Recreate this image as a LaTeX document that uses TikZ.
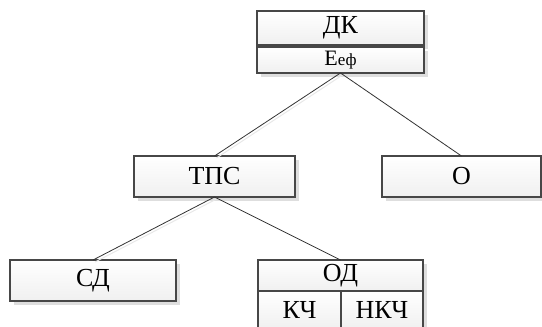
\documentclass[tikz,border=0pt]{standalone}
\usepackage{fontspec}
\setmainfont{Liberation Serif}
\usetikzlibrary{shadows}
\tikzset{
  cell/.style={rectangle, draw=black!72, line width=1.1pt, inner sep=0pt, outer sep=0pt,
    top color=white, bottom color=black!6, minimum width=#1,
    drop shadow={shadow xshift=3.5pt, shadow yshift=-3.5pt, fill=black!13, opacity=1},
    font=\fontsize{26}{30}\selectfont},
  cell/.default=165pt,
  link/.style={draw=black!80, line width=0.8pt},
  linkshade/.style={draw=black!9, line width=1pt}
}
\begin{document}
\begin{tikzpicture}[x=1pt, y=-1pt]
\clip (0,0) rectangle (542,327);
\fill[white] (0,0) rectangle (542,327);

% top unit
\node[cell=167pt, minimum height=34pt] (dk) at (340.5,28) {ДК};
\node[cell=167pt, minimum height=26pt] (eef) at (340.5,60)
  {{\fontsize{22}{26}\selectfont Е}{\fontsize{17}{20}\selectfont еф}};

% second level
\node[cell=161pt, minimum height=41pt] (tps) at (214.5,176.5) {ТПС};
\node[cell=159pt, minimum height=41pt] (o) at (461.5,176.5) {О};

% third level
\node[cell=166pt, minimum height=41pt] (sd) at (93,280.5) {СД};
\node[cell=165pt, minimum height=31pt] (od) at (340.5,275.5) {ОД};
\node[cell=83pt, minimum height=38pt] (kch) at (299.5,310) {КЧ};
\node[cell=82pt, minimum height=38pt] (nkch) at (382,310) {НКЧ};

% connectors, with a faint offset shade
\draw[linkshade] ([xshift=2pt,yshift=-2pt]eef.south) -- ([xshift=2pt,yshift=-2pt]tps.north);
\draw[linkshade] ([xshift=2pt,yshift=-2pt]tps.south) -- ([xshift=2pt,yshift=-2pt]sd.north);
\draw[link] (eef.south) -- (tps.north);
\draw[link] (eef.south) -- (o.north);
\draw[link] (tps.south) -- (sd.north);
\draw[link] (tps.south) -- (od.north);
\end{tikzpicture}
\end{document}
